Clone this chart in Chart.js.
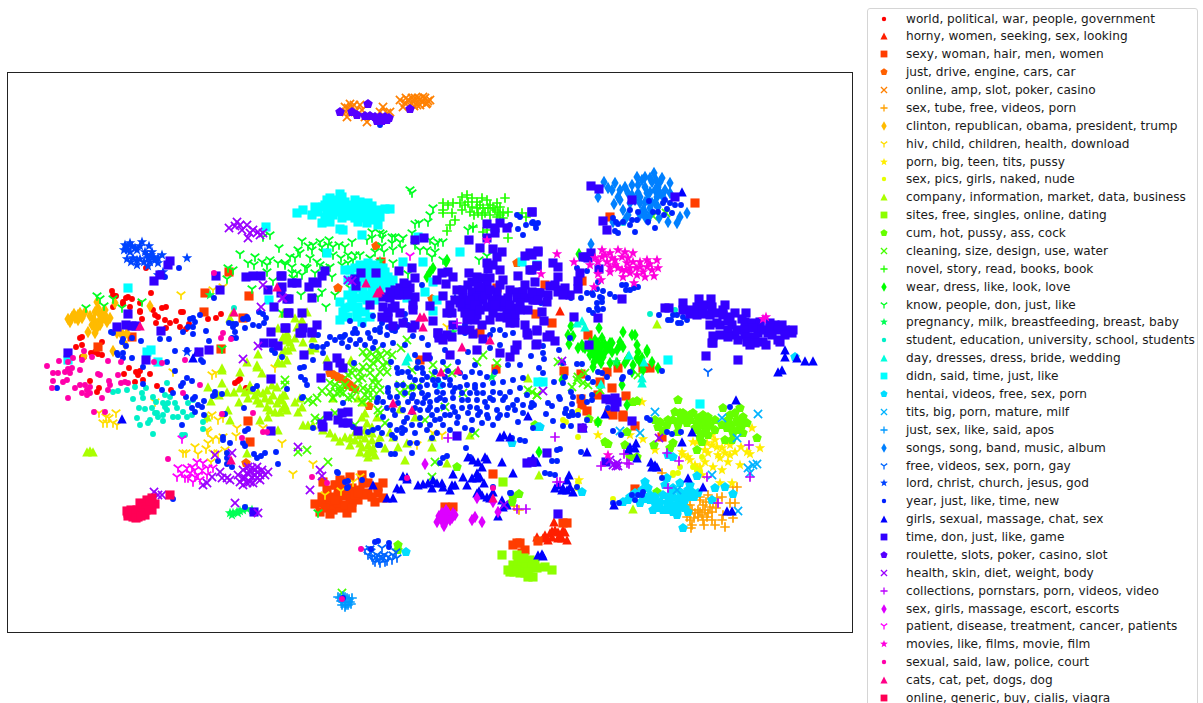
<!DOCTYPE html>
<html>
<head>
<meta charset="utf-8">
<title>Topics t-SNE</title>
<script src="https://cdn.jsdelivr.net/npm/chart.js@4/dist/chart.umd.min.js"></script>
<style>
    html, body { margin: 0; padding: 0; width: 1203px; height: 703px; overflow: hidden; background: #fff; }
    #plot { position: absolute; left: 0; top: 0; }
    #legend { position: absolute; left: 867px; top: 8px; width: 331px; height: 730px; box-sizing: border-box;
        border: 1px solid #d5d5d5; border-radius: 3px; background: #fff;
        font: 12.13px "DejaVu Sans", sans-serif; color: #1a1a1a; }
    .row { position: absolute; left: 38px; white-space: nowrap; line-height: 18px; height: 18px; }
    .row canvas { position: absolute; left: -30px; top: 1px; }
</style>
</head>
<body>
<canvas id="plot" width="1203" height="703"></canvas>
<div id="legend"></div>
<script>
// topic names, same order as the legend
const topics = [
    "world, political, war, people, government", "horny, women, seeking, sex, looking", "sexy, woman, hair, men, women",
    "just, drive, engine, cars, car", "online, amp, slot, poker, casino", "sex, tube, free, videos, porn",
    "clinton, republican, obama, president, trump", "hiv, child, children, health, download", "porn, big, teen, tits, pussy",
    "sex, pics, girls, naked, nude", "company, information, market, data, business", "sites, free, singles, online, dating",
    "cum, hot, pussy, ass, cock", "cleaning, size, design, use, water", "novel, story, read, books, book",
    "wear, dress, like, look, love", "know, people, don, just, like", "pregnancy, milk, breastfeeding, breast, baby",
    "student, education, university, school, students", "day, dresses, dress, bride, wedding", "didn, said, time, just, like",
    "hentai, videos, free, sex, porn", "tits, big, porn, mature, milf", "just, sex, like, said, apos",
    "songs, song, band, music, album", "free, videos, sex, porn, gay", "lord, christ, church, jesus, god",
    "year, just, like, time, new", "girls, sexual, massage, chat, sex", "time, don, just, like, game",
    "roulette, slots, poker, casino, slot", "health, skin, diet, weight, body", "collections, pornstars, porn, videos, video",
    "sex, girls, massage, escort, escorts", "patient, disease, treatment, cancer, patients", "movies, like, films, movie, film",
    "sexual, said, law, police, court", "cats, cat, pet, dogs, dog", "online, generic, buy, cialis, viagra"
];

const colors = [
    "#ff0000", "#ff1e00", "#ff3d00", "#ff6000", "#ff8000", "#ffa000", "#ffbb00", "#ffdd00", "#ffee00", "#e6ff00",
    "#aaff00", "#8cff00", "#66ff00", "#44ff00", "#22ff00", "#00ff00", "#00ff22", "#00ff55", "#00f0c8", "#00ffdd",
    "#00ffff", "#00ddff", "#00b3ff", "#0099ff", "#0080ff", "#0066ff", "#0044ff", "#0022ff", "#0000ff", "#3300ff",
    "#5500ff", "#9900ff", "#bb00ff", "#dd00ff", "#ff00ff", "#ff00dd", "#ff00aa", "#ff0088", "#ff0055"
];

const shapes = ["dot", "triangle", "square", "pentagon", "x", "plus", "diamond", "tri", "star"];

// embedding values, x,y pairs
const world = [146,268, 112,291, 113,295, 116,296, 128,297, 126,298, 132,299, 151,293, 113,307, 123,302, 123,304, 130,307, 140,303, 140,311, 140,312, 142,319, 153,310, 162,308, 166,307, 155,315, 158,317, 165,320, 170,323, 176,321, 181,312, 183,312, 180,327, 186,329, 208,319, 216,318, 221,314, 189,324, 156,323, 166,328, 82,337, 80,338, 82,345, 76,347, 102,342, 91,353, 95,352, 98,354, 102,355, 84,357, 82,357, 129,368, 124,374, 136,372, 140,371, 138,375, 150,374, 143,380, 135,382, 90,381, 99,388, 97,392, 157,386, 171,390, 246,388, 235,383, 238,381, 240,379, 337,490];
const horny = [554,522, 545,535, 552,537, 560,535, 565,532, 567,540, 558,538, 548,540, 550,533, 558,532, 563,530, 537,537, 560,311, 555,530, 543,538, 562,538, 552,531];
const sexy = [315,504, 322,497, 323,503, 330,503, 335,485, 338,495, 342,482, 345,493, 350,497, 352,488, 358,500, 360,490, 368,483, 368,493, 378,493, 375,502, 383,498, 320,512, 333,510, 347,513, 340,508, 323,482, 383,483, 352,502, 338,503, 363,483, 340,480, 350,477, 362,475, 336,485, 342,496, 348,490, 355,495, 330,497, 325,508, 335,500, 345,505, 365,495, 372,497, 358,493, 327,490, 340,490, 378,487, 352,508, 330,514, 517,543, 513,545, 520,543, 525,550, 522,553, 538,541, 563,523, 567,523, 445,507, 453,507, 98,347, 132,337, 205,293, 204,312, 249,296, 229,272, 221,349, 243,318, 248,421, 250,442, 381,262, 497,288, 480,333, 536,314, 420,360, 496,369, 493,474, 695,203, 610,217, 545,285, 582,281, 552,323, 588,335, 564,371, 581,374, 600,382, 612,388, 598,395, 626,396, 581,399, 582,405, 587,411, 609,413, 613,415, 623,415, 623,417, 635,426, 662,437, 635,489, 643,368, 650,368, 607,372, 618,368];
const drive = [330,373, 334,375, 338,377, 342,379, 345,381, 349,384, 352,387, 355,389, 347,385, 340,379, 338,288, 376,246, 517,263, 369,406, 246,463, 432,299];
const casinoAmp = [345,107, 348,108, 352,107, 355,112, 347,117, 350,112, 360,105, 362,110, 367,122, 365,117, 383,107, 387,113, 380,112, 390,112, 400,100, 405,103, 408,100, 413,102, 418,98, 422,102, 425,98, 428,101, 417,105, 423,97, 420,105, 410,105, 403,107, 427,103, 430,100, 415,98, 350,104, 346,112, 354,105, 412,98, 420,99, 426,104, 406,98, 414,106];
const tube = [662,473, 687,505, 690,505, 687,517, 692,525, 691,528, 700,500, 703,505, 698,510, 705,510, 710,507, 702,515, 708,513, 698,517, 703,520, 695,513, 713,503, 708,495, 717,498, 722,497, 712,520, 715,525, 723,515, 722,520, 725,527, 730,503, 735,503, 733,518, 733,487, 737,487, 707,517, 692,510, 514,506, 519,510, 700,512, 706,502, 712,512, 704,525, 694,518, 716,508, 700,497, 690,520];
const clinton = [72,317, 75,318, 68,319, 80,313, 85,312, 78,320, 95,312, 100,315, 105,310, 110,318, 98,323, 102,320, 97,328, 95,333, 88,332, 97,302, 115,303, 150,306, 105,315, 120,332, 123,335, 117,333, 113,351, 127,333, 84,356, 125,344, 70,322, 74,314, 78,315, 82,318, 90,316, 94,320, 100,325, 103,312, 107,322, 98,308, 92,325, 95,328];
const hiv = [99,413, 116,413, 106,417, 109,418, 103,423, 107,423, 113,423, 117,425, 212,415, 207,418, 218,420, 223,418, 237,428, 207,430, 208,432, 236,436, 213,439, 219,439, 208,443, 223,437, 206,449, 195,447, 198,454, 183,453, 186,453, 225,450, 213,453, 218,453, 282,443, 263,428, 275,368, 212,375, 216,373, 155,402, 173,372, 211,462, 181,295, 213,290, 223,287, 293,474, 313,464, 325,495, 341,491, 353,482, 360,477, 433,433, 442,435, 417,445, 447,327];
const teen = [642,402, 598,435, 643,439, 655,450, 693,442, 697,442, 682,452, 683,455, 688,457, 695,465, 697,468, 707,443, 712,435, 715,440, 708,453, 717,447, 722,448, 725,453, 720,458, 730,455, 713,467, 722,470, 740,465, 741,447, 747,452, 750,454, 760,448, 752,428, 732,483, 720,483, 579,480, 630,435, 727,442, 700,467, 702,475, 705,450, 712,445, 718,455, 730,445, 728,462, 735,452, 705,462, 690,460];
const pics = [693,467, 697,470, 700,472, 680,467, 673,473, 678,473, 673,475, 702,457, 578,411, 563,420, 566,422, 578,437, 577,487, 613,499, 577,488, 578,482];
const company = [87,452, 90,451, 93,452, 222,370, 240,372, 222,383, 208,387, 227,392, 234,392, 219,395, 240,388, 250,390, 248,398, 239,402, 211,401, 228,410, 230,420, 260,420, 268,417, 247,453, 207,417, 263,393, 257,400, 260,403, 267,407, 277,403, 280,412, 275,412, 287,410, 267,390, 277,387, 262,373, 257,367, 278,362, 278,430, 230,318, 233,312, 258,354, 278,328, 287,337, 278,362, 287,360, 257,365, 222,368, 247,362, 283,313, 295,318, 302,320, 287,333, 283,337, 297,327, 307,312, 313,338, 288,337, 292,347, 285,350, 303,342, 310,350, 315,348, 327,359, 351,360, 282,353, 288,350, 282,363, 285,395, 282,400, 283,408, 300,398, 302,407, 298,412, 295,402, 333,398, 358,398, 363,402, 365,413, 362,417, 377,417, 400,409, 415,417, 372,427, 367,423, 303,425, 308,425, 313,425, 323,430, 330,433, 340,441, 345,437, 350,438, 355,440, 360,443, 360,452, 368,445, 372,440, 373,448, 375,455, 367,453, 380,437, 390,432, 393,437, 385,448, 398,447, 407,443, 405,460, 432,437, 432,447, 470,435, 447,463, 528,378, 539,475, 657,324, 633,509, 270,400, 273,395, 283,395, 270,410, 285,405, 255,395, 265,398, 250,385, 245,392, 272,385, 258,392, 280,398, 365,430, 360,435, 370,432, 372,433, 350,445, 362,447, 370,450, 365,438, 378,443, 368,457, 372,452, 355,432, 335,437, 286,340, 295,338, 290,342];
const singles = [510,572, 513,565, 517,555, 523,560, 530,560, 535,562, 537,568, 530,568, 523,568, 520,573, 528,577, 533,577, 545,567, 552,570, 502,555, 525,573, 528,568, 503,482, 518,562, 522,565, 526,563, 532,565, 528,572, 524,558, 516,570, 514,572, 508,570];
const cum = [678,400, 675,412, 683,413, 693,413, 703,415, 723,408, 730,415, 740,408, 743,417, 737,420, 732,425, 727,428, 715,430, 697,423, 703,425, 687,423, 680,420, 678,425, 668,420, 667,425, 655,420, 658,427, 663,431, 690,420, 700,420, 705,422, 697,430, 703,433, 702,442, 707,428, 733,433, 738,430, 743,433, 725,440, 732,440, 757,438, 678,432, 673,443, 670,448, 654,445, 627,432, 625,445, 605,442, 608,444, 598,422, 589,419, 630,457, 637,457, 657,492, 747,423, 742,425, 633,402, 637,401, 398,545, 398,550, 519,494, 513,497, 512,502, 457,467, 697,450, 535,425, 690,415, 698,418, 708,417, 715,420, 722,425, 728,420, 735,413, 710,425, 685,418, 673,420, 695,428, 708,435, 730,428, 740,425, 700,437, 680,413, 660,422];
const cleaning = [363,352, 370,352, 377,350, 380,355, 387,353, 375,357, 401,348, 387,363, 407,340, 373,363, 363,367, 370,367, 380,372, 387,372, 353,368, 360,372, 352,373, 362,378, 370,373, 373,382, 378,383, 363,388, 368,390, 373,390, 380,390, 330,383, 335,385, 340,387, 322,391, 330,392, 337,393, 343,393, 333,398, 348,398, 352,397, 308,400, 313,402, 317,398, 362,402, 368,398, 378,410, 380,413, 385,423, 355,425, 335,413, 315,418, 320,420, 400,385, 400,393, 408,387, 408,393, 417,387, 412,370, 433,365, 433,375, 447,368, 452,373, 477,362, 483,355, 497,363, 463,393, 445,407, 425,420, 475,433, 528,390, 537,395, 285,380, 285,385, 307,450, 298,452, 328,462, 435,462, 432,477, 653,216, 666,213, 558,362, 578,377, 577,380, 585,373, 572,387, 583,383, 588,385, 537,395, 532,392, 600,390, 638,375, 342,593, 348,375, 358,380, 367,358, 383,365, 375,378, 340,392, 345,385, 355,390, 365,395, 373,398, 378,360, 392,355];
const novel = [462,197, 467,195, 472,198, 477,202, 482,198, 487,200, 465,205, 472,207, 477,208, 483,208, 488,208, 462,210, 470,212, 478,213, 485,213, 490,215, 497,203, 500,207, 505,198, 498,212, 503,213, 497,217, 508,212, 443,203, 448,205, 453,203, 443,210, 443,213, 452,213, 455,220, 450,225, 447,231, 473,227, 483,232, 487,230, 508,238, 522,213, 526,217, 503,218, 480,205, 474,215, 482,215, 468,202, 493,208, 495,210, 490,205, 460,203, 500,215];
const wear = [571,326, 573,336, 568,335, 579,254, 599,328, 623,332, 632,335, 635,335, 582,345, 590,343, 595,340, 598,343, 602,338, 605,345, 612,343, 620,342, 623,347, 637,345, 647,350, 569,344, 578,348, 583,347, 592,352, 595,357, 600,348, 605,345, 610,343, 620,345, 638,352, 647,352, 637,358, 625,363, 633,365, 652,362, 593,367, 610,363, 617,363, 643,370, 658,368, 632,372, 622,385, 562,380, 598,422, 627,405, 539,452, 602,345, 595,347, 598,353, 590,355, 427,277, 430,272, 433,268, 447,260, 446,262, 585,348, 590,350, 600,352, 605,352, 608,348, 598,358, 592,345, 603,357, 594,362, 601,363, 596,350, 640,362, 628,358, 612,352, 617,350, 642,358];
const know = [410,190, 412,193, 433,208, 430,215, 428,222, 415,224, 419,223, 378,222, 372,232, 380,233, 383,234, 382,238, 392,237, 395,237, 412,233, 403,238, 400,242, 392,243, 382,246, 372,238, 367,240, 352,242, 345,247, 339,245, 329,240, 320,242, 313,245, 308,246, 302,241, 333,247, 322,247, 328,245, 298,250, 290,257, 285,265, 295,258, 300,253, 310,258, 312,250, 323,252, 333,255, 341,258, 348,255, 355,255, 360,255, 370,258, 375,252, 384,252, 393,250, 393,263, 402,248, 415,245, 420,250, 427,250, 435,245, 430,240, 438,242, 443,242, 435,252, 432,257, 443,260, 479,260, 487,256, 468,230, 473,228, 292,267, 305,267, 297,273, 307,268, 317,262, 320,265, 315,273, 325,268, 330,267, 348,263, 353,260, 342,265, 332,277, 292,273, 302,275, 293,278, 322,292, 318,297, 335,295, 301,295, 326,307, 350,288, 408,274, 97,296, 100,299, 113,299, 104,306, 86,308, 142,302, 122,308, 240,254, 255,257, 262,262, 248,263, 254,265, 270,260, 267,265, 278,263, 285,263, 267,272, 279,248, 270,235, 263,237, 228,268, 233,270, 227,279, 252,289, 273,281, 282,313, 222,349, 318,513];
const pregnancy = [230,513, 233,513, 237,512, 240,511, 243,510, 247,509, 252,510, 232,515, 238,513, 492,377, 210,295, 380,261, 453,332, 616,362];
const student = [113,392, 118,391, 127,390, 135,387, 142,393, 146,388, 143,398, 133,399, 153,397, 156,402, 139,408, 145,409, 152,408, 163,403, 168,403, 175,403, 165,395, 170,397, 167,383, 177,408, 167,410, 163,415, 155,413, 158,417, 150,420, 137,418, 140,425, 153,434, 163,421, 173,417, 178,417, 183,412, 187,417, 192,415, 188,403, 193,400, 182,435, 185,435, 203,422, 203,429, 148,423, 157,413, 165,407, 234,308, 650,314, 675,310, 623,223];
const bride = [582,321, 585,327, 577,323, 629,355, 644,362, 642,383, 642,378, 601,384, 408,357, 406,361];
const didn = [297,213, 303,210, 312,215, 315,207, 322,223, 327,200, 330,198, 340,194, 323,207, 330,208, 337,205, 345,202, 355,200, 360,202, 368,203, 350,210, 358,208, 365,210, 375,212, 378,210, 385,209, 390,209, 325,217, 333,215, 342,218, 352,215, 360,213, 368,217, 373,220, 358,222, 367,223, 378,225, 340,229, 343,230, 362,235, 318,212, 327,212, 335,200, 345,210, 352,205, 364,205, 370,212, 380,217, 337,212, 348,216, 355,218, 330,222, 362,218, 372,206, 325,205, 342,197, 333,203, 418,237, 327,253, 460,252, 403,262, 423,262, 360,265, 368,263, 375,265, 345,270, 350,270, 362,272, 368,270, 383,268, 372,275, 380,277, 388,277, 393,280, 358,282, 367,283, 375,282, 383,285, 390,285, 353,292, 363,292, 372,290, 380,292, 340,302, 352,298, 360,298, 367,300, 343,312, 350,307, 358,307, 365,312, 340,320, 348,317, 357,317, 362,322, 370,317, 355,268, 375,272, 360,277, 378,268, 348,280, 385,272, 380,285, 368,277, 352,302, 345,308, 357,312, 355,288, 370,295, 375,300, 348,295, 407,298, 425,292, 433,282, 437,300, 433,311, 355,278, 522,262, 128,288, 147,352, 151,350, 158,362, 68,360, 269,300, 266,227, 543,382, 668,360, 700,404, 537,265, 538,382];
const hentai = [645,482, 648,488, 643,497, 640,503, 645,499, 630,497, 623,502, 655,503, 653,510, 663,495, 668,497, 667,503, 673,497, 678,500, 672,505, 663,510, 673,512, 678,510, 685,495, 690,497, 685,500, 698,493, 680,483, 690,485, 673,488, 680,492, 667,478, 715,488, 725,487, 733,494, 712,500, 683,528, 688,512, 668,455, 673,457, 697,476, 582,492, 677,515, 685,508, 650,495, 660,502, 670,500, 682,497, 688,490, 655,497, 650,500, 658,508, 668,510, 676,505, 682,505, 692,492, 694,497, 642,490, 635,493, 628,500, 665,485, 672,492, 406,552, 440,385, 512,443, 538,427, 540,427, 795,357];
const milf = [655,412, 722,418, 737,438, 758,414, 620,431, 640,433, 712,475, 748,468, 757,464, 750,473, 738,511, 677,490, 753,465];
const apos = [340,598, 343,602, 347,598, 342,605, 345,607, 348,605, 350,602, 352,598, 345,597, 338,597, 345,602, 341,601, 346,605, 349,599, 343,596, 351,604];
const songs = [598,197, 604,182, 615,183, 612,190, 618,197, 614,204, 625,187, 628,193, 637,177, 645,177, 638,185, 645,187, 638,193, 654,173, 662,178, 670,183, 652,182, 658,187, 665,190, 650,192, 657,197, 663,197, 645,202, 652,203, 643,210, 650,208, 623,210, 628,215, 625,220, 645,217, 648,220, 659,218, 668,222, 677,223, 680,217, 687,213, 658,207, 613,222, 591,244, 670,193, 640,203, 630,203, 647,193, 620,190, 632,185, 632,195, 642,180, 650,178, 656,180, 660,182, 655,190, 648,200, 655,203, 660,193, 640,197, 635,200, 645,212, 620,200, 608,188, 650,215, 640,215];
const gay = [365,550, 368,555, 372,557, 375,562, 380,563, 383,558, 377,555, 382,548, 388,557, 392,560, 396,552, 397,558, 373,560, 380,557, 385,562, 371,552, 376,558, 384,555, 379,560, 387,561, 370,549, 393,555, 708,372];
const lord = [125,245, 130,243, 142,242, 149,246, 128,250, 135,248, 145,252, 152,252, 127,259, 133,258, 137,265, 140,259, 148,258, 153,257, 162,255, 158,263, 150,262, 187,258, 163,272, 187,352, 158,275, 455,298, 127,247, 132,246, 137,250, 130,252, 124,250, 147,255, 151,255, 144,262, 155,260, 148,266, 137,260, 131,262, 158,258, 140,246];
const year = [312,346, 317,347, 323,347, 327,344, 335,340, 342,343, 348,347, 343,337, 353,333, 360,340, 370,338, 380,332, 387,335, 393,343, 383,345, 373,348, 356,344, 323,353, 313,360, 300,368, 304,367, 301,377, 305,380, 307,385, 303,397, 302,398, 287,389, 313,428, 343,403, 354,363, 397,368, 402,372, 398,373, 408,372, 417,368, 422,368, 423,373, 410,377, 415,380, 422,380, 427,377, 433,380, 438,380, 445,377, 450,380, 460,373, 472,372, 480,373, 487,377, 397,385, 388,388, 388,392, 403,385, 412,387, 420,387, 427,385, 435,385, 443,385, 450,385, 460,387, 467,385, 475,385, 483,385, 493,383, 503,382, 513,380, 523,378, 390,397, 378,398, 377,402, 383,402, 397,397, 405,393, 413,395, 422,393, 428,395, 437,392, 443,393, 453,392, 462,393, 470,393, 477,393, 483,393, 493,392, 500,393, 510,392, 520,388, 398,403, 408,402, 417,402, 423,403, 430,402, 437,400, 445,400, 453,398, 462,400, 468,400, 477,400, 485,402, 493,400, 503,400, 517,400, 523,405, 532,403, 387,408, 393,410, 403,410, 412,412, 420,410, 428,410, 437,410, 443,407, 453,407, 462,408, 470,407, 477,408, 487,407, 497,410, 508,408, 523,413, 383,417, 407,418, 420,418, 432,415, 440,419, 450,415, 458,417, 468,413, 478,415, 487,415, 498,418, 507,415, 518,422, 493,425, 482,423, 390,425, 402,428, 412,425, 420,425, 430,425, 443,425, 457,423, 472,420, 378,428, 382,433, 397,430, 405,430, 415,433, 427,430, 437,433, 380,445, 392,435, 402,433, 410,443, 417,443, 395,454, 391,454, 412,453, 378,445, 373,430, 368,432, 353,427, 466,448, 520,440, 525,441, 512,438, 533,428, 443,458, 447,456, 440,463, 470,457, 337,472, 338,473, 372,475, 348,487, 345,482, 493,487, 510,493,
    391,362, 418,362, 435,372, 448,371, 465,377, 440,398, 430,407, 455,388, 475,388, 490,398, 505,397, 513,405, 488,418, 465,428, 450,430, 435,420, 412,398, 395,415, 404,422, 425,398, 445,415, 472,430, 480,412, 500,415, 515,410, 527,395, 455,412, 415,408, 395,438, 432,438, 350,340, 365,345, 375,342, 392,330, 405,345, 415,355, 428,345, 445,350, 468,352, 490,348, 500,345, 520,365, 508,365, 495,372, 475,365, 458,362, 443,362, 430,358,
    350,321, 345,335, 340,337, 355,329, 357,333, 363,325, 368,333, 373,316, 375,330, 382,323, 380,328, 388,327, 397,327, 395,331, 405,314, 422,285, 413,336, 422,338, 437,337, 465,333, 490,335, 500,330, 505,335, 513,333, 520,217, 526,225, 533,222, 538,223, 523,235, 517,215, 510,225, 518,229, 405,320, 408,325, 465,325, 493,330, 330,337, 318,335,
    179,268, 193,318, 195,322, 188,327, 193,327, 200,315, 190,319, 183,332, 193,334, 206,331, 160,339, 169,339, 175,351, 209,341, 132,338, 123,339, 122,342, 141,341, 126,346, 111,332, 113,333, 117,353, 118,355, 123,353, 123,358, 132,358, 143,367, 167,362, 201,360, 203,362, 187,350, 214,298, 247,317, 248,319, 243,319, 229,323, 233,324, 233,327, 236,324, 235,332, 232,338, 236,338, 245,328, 253,325, 259,326, 266,318, 264,323, 259,312, 263,314, 272,350, 275,353, 282,357, 160,275, 165,277,
    57,388, 143,384, 175,371, 187,378, 192,381, 181,386, 183,383, 162,390, 173,393, 186,397, 195,397, 193,399, 204,401, 198,405, 202,407, 192,408, 195,412, 204,415, 182,425, 225,414, 215,392, 215,395, 222,394, 213,396, 244,408, 257,386, 253,389, 245,431, 248,429, 223,437, 223,440, 230,443, 243,443, 245,446, 227,453, 254,454, 257,458, 261,456, 265,453, 276,452, 278,464, 218,461, 227,464, 232,467, 227,458, 245,507, 173,499,
    543,346, 543,353, 544,359, 539,368, 543,373, 531,356, 559,350, 577,364, 582,364, 563,363, 565,377, 588,378, 593,382, 598,372, 602,373, 607,377, 623,377, 622,379, 630,372, 662,371, 554,382, 563,383, 571,392, 573,397, 559,397, 560,399, 582,397, 587,402, 592,395, 592,400, 548,403, 552,406, 534,405, 531,407, 572,404, 566,409, 572,412, 565,413, 573,415, 578,415, 569,416, 546,414, 553,421, 563,426, 571,426, 587,420, 560,449, 557,450, 552,461, 557,461, 581,452, 608,408, 613,431, 621,435, 647,418, 650,420, 667,432, 672,434, 681,432, 643,492, 638,495, 642,495, 613,503, 619,503, 635,500, 632,495, 582,429, 545,473, 550,474, 555,475, 730,407, 662,478, 577,487,
    532,223, 535,224, 536,228, 577,268, 587,271, 580,274, 598,282, 597,289, 603,291, 587,293, 592,293, 593,295, 600,297, 602,298, 581,298, 610,294, 615,297, 622,285, 626,285, 626,290, 630,290, 634,288, 638,287, 571,298, 541,303, 597,308, 589,310, 593,313, 598,310, 603,309, 602,302, 597,303, 659,315, 668,320, 673,315, 671,320, 678,323, 681,323, 683,317, 687,320, 677,315, 570,338, 649,201, 665,200, 663,203, 670,203, 675,205, 681,205, 667,209, 672,213, 664,215, 653,212, 658,212, 613,218, 616,222, 618,224, 623,222, 630,210, 638,212, 632,220, 637,220, 630,225, 635,232, 615,231, 618,233, 648,222, 655,228,
    378,541, 375,542, 371,549, 389,543, 389,547, 511,493, 348,481, 362,480, 347,488, 343,598, 380,125];
const girls = [403,476, 407,479, 397,488, 401,489, 418,485, 423,484, 428,483, 433,480, 432,488, 437,483, 442,483, 443,487, 452,485, 453,474, 450,490, 455,485, 463,477, 467,485, 477,473, 477,478, 472,478, 480,477, 468,457, 473,460, 478,462, 482,467, 485,457, 487,459, 484,483, 502,462, 513,473, 493,492, 528,416, 500,437, 504,435, 510,437, 533,458, 537,462, 407,477, 373,485, 387,498, 393,498, 477,493, 482,495, 487,497, 479,491, 490,498, 498,516, 502,500, 503,507, 507,505, 542,554, 538,555, 543,556, 555,488, 558,485, 563,488, 567,480, 569,475, 570,487, 573,492, 562,490, 567,490, 587,452, 605,414, 583,428, 628,450, 630,447, 636,443, 635,448, 637,458, 651,462, 655,465, 652,467, 657,467, 682,442, 692,432, 688,478, 703,487, 727,511, 732,511, 614,505, 736,400, 682,192, 785,350, 785,357, 782,370, 778,372, 193,358, 197,352, 122,419, 797,358, 805,361, 813,361];
const game = [415,240, 424,238, 469,240, 480,248, 487,238, 532,212, 487,224, 495,233, 500,223, 495,228, 507,228, 493,249, 502,252, 497,257, 525,256, 530,253, 538,252, 487,263, 493,265, 488,269, 500,270, 537,266, 530,270, 518,276, 503,280, 448,272, 442,273, 437,280, 453,277, 446,284, 469,273, 477,277, 483,278, 490,278, 472,282, 478,285, 487,285, 457,290, 463,290, 472,292, 480,293, 488,293, 497,292, 510,290, 517,292, 523,292, 532,292, 538,293, 477,298, 483,300, 492,300, 500,300, 508,298, 517,298, 525,298, 533,300, 463,298, 468,302, 462,307, 470,308, 478,307, 487,307, 497,307, 505,307, 513,308, 528,310, 465,313, 477,315, 493,313, 507,313, 515,315, 467,320, 482,325, 507,318, 515,323, 525,325, 527,333, 537,330, 447,313, 452,313, 443,296, 450,305, 430,306, 433,321, 438,333, 453,325, 462,330, 470,330, 447,335, 439,338, 361,273, 376,273, 399,271, 412,268, 415,278, 407,285, 400,288, 410,288, 405,290, 397,295, 415,297, 390,298, 383,297, 413,305, 413,310, 395,306, 383,307, 392,308, 400,313, 370,305, 382,317, 388,318, 403,323, 415,325, 412,328, 393,326, 356,286, 355,279, 322,276, 325,271, 313,282, 309,287, 317,283, 292,283, 297,283, 282,276, 282,287, 289,299, 312,298, 289,313, 302,313, 285,328, 317,325, 303,328, 300,333, 312,332,
    470,300, 475,305, 485,295, 495,305, 505,302, 520,303, 490,290, 480,287, 468,285, 500,285, 510,305, 520,310, 480,310, 460,303, 455,300, 490,320, 500,317, 510,323, 475,320, 525,285, 535,300, 470,315, 400,295, 408,295, 404,283, 395,290, 390,292, 388,312, 710,325, 720,325, 735,335, 745,335, 758,333, 768,333, 732,325, 725,305, 705,305, 690,310, 745,322, 760,325, 775,325, 785,330, 570,295, 560,290, 548,295, 538,293, 535,297,
    170,261, 168,265, 160,275, 154,281, 216,276, 246,277, 253,276, 261,276, 220,290, 281,276, 268,290, 281,293, 274,307, 128,314, 117,327, 126,325, 132,326, 136,326, 161,331, 68,353, 146,360, 209,350, 199,352, 271,332, 286,328, 264,343, 273,343, 278,346, 287,299, 288,313, 271,379, 271,431, 254,512, 304,355, 328,366, 337,358, 340,363, 343,368, 321,378, 348,412, 342,413, 328,416, 338,420, 343,423, 348,423, 322,424, 323,427, 358,431, 427,357, 450,355, 477,350, 500,353, 510,357, 515,350, 517,345, 457,436, 527,463, 532,462, 536,345, 483,339, 443,340, 452,337, 473,334, 528,335, 438,333, 302,333, 312,333,
    591,186, 599,189, 632,200, 675,197, 603,221, 607,230, 532,212, 538,251, 586,257, 591,253, 583,257, 588,258, 599,269, 553,263, 558,267, 537,266, 558,277, 580,273, 578,281, 532,255, 532,270, 535,282, 550,286, 555,285, 565,288, 558,292, 563,295, 578,289, 540,293, 532,293, 547,302, 538,300, 622,299, 542,312, 574,317, 598,318, 544,321, 537,331, 550,335, 555,341, 547,337, 537,344, 589,345, 665,308, 669,308, 683,303, 683,310, 699,299, 697,307, 711,299, 703,307, 712,307, 690,314, 697,315, 703,314, 710,315, 723,310, 717,313, 723,315, 735,313, 730,317, 746,313, 742,319, 728,321, 717,323, 752,323, 760,322, 770,323, 782,325, 728,330, 737,330, 745,330, 753,328, 762,330, 770,328, 778,330, 793,330, 792,333, 720,335, 713,336, 728,337, 747,337, 755,337, 763,342, 772,335, 785,335, 738,340, 747,342, 755,343, 778,340, 780,342, 713,343, 766,345, 750,345, 712,343, 706,356, 738,360, 606,399, 610,400, 615,398, 615,407, 632,421, 582,428, 547,453, 532,462, 606,462, 558,514, 617,402];
const roulette = [340,112, 352,112, 357,115, 368,104, 365,116, 370,116, 375,117, 380,117, 385,117, 389,118, 377,121, 382,121, 387,120, 410,109, 583,428];
const diet = [229,228, 237,222, 240,225, 247,225, 242,230, 250,233, 253,230, 258,232, 263,233, 248,238, 260,235, 235,226, 263,285, 261,307, 282,298, 243,359, 258,346, 154,492, 158,495, 162,495, 235,503, 258,513, 215,455, 232,453, 220,472, 227,478, 230,480, 222,478, 207,483, 203,485, 212,477, 240,482, 247,473, 243,470, 248,467, 257,467, 262,470, 268,472, 255,475, 260,475, 252,477, 257,478, 247,483, 253,483, 243,478, 260,480, 250,472, 238,475, 243,485, 255,470, 245,478, 252,468, 265,475, 250,482, 258,472, 348,280, 352,281, 283,298, 298,447, 310,490, 320,470, 322,476, 562,361, 543,391, 659,438, 610,460, 616,466, 618,466, 613,465, 617,463, 504,505];
const pornstars = [555,437, 557,482, 560,482, 624,454, 601,466, 627,463, 629,464, 667,453, 679,461, 707,477, 668,488, 718,503, 749,445, 750,477, 517,509, 526,509, 448,438, 457,323];
const escorts = [437,522, 442,513, 443,523, 448,513, 452,518, 455,515, 443,518, 447,520, 441,518, 445,515, 450,520, 444,526, 439,516, 446,510, 453,513, 472,520, 475,517, 482,522, 477,498, 493,502, 498,512, 425,464];
const patient = [178,468, 182,473, 187,468, 192,467, 197,462, 203,463, 208,468, 213,468, 202,470, 195,470, 190,473, 185,478, 193,482, 198,475, 177,477, 207,475, 188,478, 200,480, 182,439, 195,477, 410,256];
const movies = [557,254, 574,262, 602,250, 610,253, 618,250, 625,252, 633,253, 595,258, 602,257, 615,260, 590,265, 610,267, 618,268, 627,263, 633,262, 647,260, 657,260, 658,268, 640,267, 647,267, 630,268, 610,272, 623,277, 630,273, 637,275, 645,277, 654,276, 605,255, 612,258, 622,257, 628,258, 640,262, 650,264, 643,272, 636,268, 622,270, 615,265, 607,262, 598,262, 652,270, 626,270, 598,274, 601,280, 634,283, 594,287, 541,274, 763,319, 766,317, 487,240, 608,455];
const court = [47,366, 59,361, 68,362, 73,358, 82,360, 84,351, 92,357, 108,361, 121,362, 154,362, 162,363, 185,360, 214,273, 223,333, 221,338, 231,339, 53,373, 58,373, 65,372, 68,369, 72,368, 70,373, 53,381, 63,382, 67,380, 52,388, 80,370, 75,388, 80,385, 85,385, 87,390, 82,393, 90,393, 87,395, 68,398, 90,387, 102,398, 98,374, 100,375, 109,381, 110,385, 121,383, 118,375, 125,382, 128,383, 108,390, 94,412, 105,412, 168,459, 242,438, 183,393, 200,385, 222,414, 253,413, 263,432, 267,432, 361,549, 342,599, 493,488, 327,483, 312,477, 407,478];
const cats = [366,283, 378,292, 377,293, 380,290, 420,317, 424,317, 423,327, 393,403, 412,410, 441,372, 458,370, 462,347, 490,340, 140,326, 277,287, 234,312, 231,460, 493,498];
const viagra = [128,513, 133,517, 140,503, 147,500, 152,498, 145,515, 152,510, 138,517, 135,513, 142,512, 148,507, 155,504, 131,510, 128,516, 137,510, 130,514, 134,513, 143,507, 150,503, 146,510, 140,513, 133,512, 136,518, 127,511, 141,516, 170,495];

const seriesValues = [
    world, horny, sexy, drive, casinoAmp, tube, clinton, hiv, teen, pics, company, singles, cum, cleaning, novel, wear,
    know, pregnancy, student, bride, didn, hentai, milf, apos, songs, gay, lord, year, girls, game, roulette, diet,
    pornstars, escorts, patient, movies, court, cats, viagra
];

function toPoints(flat) {
    const pts = [];
    for (let i = 0; i < flat.length; i += 2) {
        pts.push({ x: flat[i], y: flat[i + 1] });
    }
    return pts;
}

// marker stamps, chart.js has no pentagon / filled star / tri_down of its own
function makeMarker(shape, color, k) {
    const c = document.createElement("canvas");
    c.width = 16;
    c.height = 16;
    const g = c.getContext("2d");
    g.translate(8, 8);
    g.scale(k, k);
    g.fillStyle = color;
    g.strokeStyle = color;
    g.lineWidth = 1.5;

    function poly(pts) {
        g.beginPath();
        pts.forEach((p, i) => i ? g.lineTo(p[0], p[1]) : g.moveTo(p[0], p[1]));
        g.closePath();
        g.fill();
    }
    function ring(n, r1, r2) {
        const pts = [];
        for (let i = 0; i < n; i++) {
            const a = -Math.PI / 2 + i * 2 * Math.PI / n;
            const r = i % 2 ? r2 : r1;
            pts.push([r * Math.cos(a), r * Math.sin(a)]);
        }
        poly(pts);
    }

    if (shape === "dot") {
        g.beginPath();
        g.arc(0, 0, 2.6, 0, Math.PI * 2);
        g.fill();
    } else if (shape === "triangle") {
        poly([[0, -4.2], [4.2, 4], [-4.2, 4]]);
    } else if (shape === "square") {
        g.fillRect(-4, -4, 8, 8);
    } else if (shape === "pentagon") {
        ring(5, 4.4, 4.4);
    } else if (shape === "diamond") {
        poly([[0, -5.5], [3.2, 0], [0, 5.5], [-3.2, 0]]);
    } else if (shape === "star") {
        ring(10, 4.8, 2);
    } else {
        g.beginPath();
        if (shape === "x") {
            g.moveTo(-3.6, -3.6); g.lineTo(3.6, 3.6);
            g.moveTo(3.6, -3.6); g.lineTo(-3.6, 3.6);
        } else if (shape === "plus") {
            g.moveTo(-4.2, 0); g.lineTo(4.2, 0);
            g.moveTo(0, -4.2); g.lineTo(0, 4.2);
        } else {
            g.moveTo(0, 0); g.lineTo(0, 4.2);
            g.moveTo(0, 0); g.lineTo(-3.8, -2.8);
            g.moveTo(0, 0); g.lineTo(3.8, -2.8);
        }
        g.stroke();
    }
    return c;
}

const frame = {
    id: "frame",
    afterDraw(chart) {
        const a = chart.chartArea;
        const g = chart.ctx;
        g.save();
        g.strokeStyle = "#222";
        g.lineWidth = 1;
        g.strokeRect(a.left - 0.5, a.top + 0.5, a.right - a.left, a.bottom - a.top - 1);
        g.restore();
    }
};

new Chart(document.getElementById("plot"), {
    type: "scatter",
    plugins: [frame],
    data: {
        datasets: seriesValues.map((vals, i) => ({
            label: topics[i],
            data: toPoints(vals),
            pointStyle: makeMarker(shapes[i % 9], colors[i], 1.14),
            pointRadius: 4,
            order: seriesValues.length - i
        }))
    },
    options: {
        responsive: false,
        animation: false,
        layout: { padding: { left: 8, top: 72, right: 350, bottom: 70 } },
        plugins: { legend: { display: false }, tooltip: { enabled: false } },
        scales: {
            x: { type: "linear", display: false, min: 8, max: 853 },
            y: { type: "linear", display: false, min: 72, max: 633, reverse: true }
        }
    }
});

// legend
const legendBox = document.getElementById("legend");
topics.forEach((name, i) => {
    const row = document.createElement("div");
    row.className = "row";
    row.style.top = (i * 17.88 + 0.5) + "px";
    row.textContent = name;
    row.appendChild(makeMarker(shapes[i % 9], colors[i], 0.85));
    legendBox.appendChild(row);
});
</script>
</body>
</html>
